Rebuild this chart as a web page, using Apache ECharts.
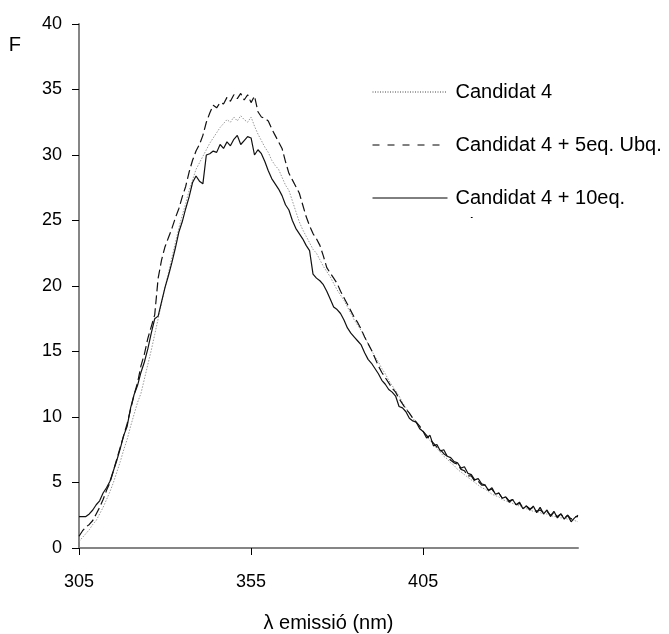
<!DOCTYPE html>
<html>
<head>
<meta charset="utf-8">
<script src="https://cdn.jsdelivr.net/npm/echarts@6/dist/echarts.min.js"></script>
<style>
  html, body { margin: 0; padding: 0; background: #fff; }
  #chart { width: 669px; height: 634px; }
</style>
</head>
<body>
<div id="chart"></div>
<script>
// Emission wavelength (nm)
const wavelengths = [
  305, 306, 307, 308, 309, 310, 311, 312, 313, 314,
  315, 316, 317, 318, 319, 320, 321, 322, 323, 324,
  325, 326, 327, 328, 329, 330, 331, 332, 333, 334,
  335, 336, 337, 338, 339, 340, 341, 342, 343, 344,
  345, 346, 347, 348, 349, 350, 351, 352, 353, 354,
  355, 356, 357, 358, 359, 360, 361, 362, 363, 364,
  365, 366, 367, 368, 369, 370, 371, 372, 373, 374,
  375, 376, 377, 378, 379, 380, 381, 382, 383, 384,
  385, 386, 387, 388, 389, 390, 391, 392, 393, 394,
  395, 396, 397, 398, 399, 400, 401, 402, 403, 404,
  405, 406, 407, 408, 409, 410, 411, 412, 413, 414,
  415, 416, 417, 418, 419, 420, 421, 422, 423, 424,
  425, 426, 427, 428, 429, 430, 431, 432, 433, 434,
  435, 436, 437, 438, 439, 440, 441, 442, 443, 444,
  445, 446, 447, 448, 449, 450
];

// Fluorescence F, Candidat 4 alone
const candidat4 = [
  0.5, 0.8, 1.1, 1.4, 1.8, 2.1, 2.6, 3.1, 3.7, 4.3,
  5.0, 5.8, 6.6, 7.5, 8.3, 9.3, 10.2, 11.1, 11.8, 12.9,
  14.0, 15.1, 16.3, 17.5, 18.7, 19.9, 21.0, 22.2, 23.3, 24.4,
  25.4, 26.3, 27.3, 28.1, 28.9, 29.4, 29.9, 30.4, 30.9, 31.3,
  31.7, 32.1, 32.4, 32.7, 32.5, 32.9, 32.6, 33.0, 32.7, 32.5,
  32.9, 32.2, 31.6, 31.1, 30.6, 30.2, 29.6, 29.2, 28.9, 28.3,
  27.7, 27.3, 26.5, 25.7, 24.9, 24.3, 23.8, 23.3, 22.8, 22.5,
  22.0, 21.5, 21.1, 20.7, 20.2, 19.7, 19.3, 18.9, 18.4, 17.9,
  17.4, 17.0, 16.6, 16.1, 15.6, 15.1, 14.6, 14.2, 13.7, 13.3,
  12.8, 12.4, 12.0, 11.6, 11.1, 10.7, 10.3, 9.9, 9.6, 9.2,
  8.9, 8.5, 8.2, 7.9, 7.6, 7.3, 7.0, 6.8, 6.5, 6.3,
  6.0, 5.8, 5.6, 5.4, 5.2, 5.0, 4.8, 4.6, 4.5, 4.3,
  4.1, 4.0, 3.9, 3.7, 3.6, 3.5, 3.4, 3.3, 3.2, 3.1,
  3.0, 2.9, 2.8, 2.8, 2.7, 2.6, 2.6, 2.5, 2.4, 2.4,
  2.3, 2.3, 2.2, 2.2, 2.1, 2.0
];

// Fluorescence F, Candidat 4 + 5 eq. ubiquitin
const candidat4Ubq5 = [
  0.9, 1.3, 1.6, 1.8, 2.1, 2.6, 3.1, 3.7, 4.4, 5.0,
  5.9, 6.8, 7.7, 8.6, 9.5, 10.6, 11.7, 12.6, 13.9, 14.8,
  16.0, 16.9, 17.8, 20.6, 22.0, 23.0, 23.7, 24.4, 25.2, 25.9,
  26.8, 27.6, 28.7, 29.6, 30.3, 30.8, 31.5, 32.5, 33.2, 33.8,
  33.6, 34.0, 33.9, 34.4, 34.1, 34.6, 34.3, 34.7, 34.2, 34.6,
  34.0, 34.5, 33.3, 32.9, 32.8, 32.6, 32.0, 31.5, 31.0, 30.5,
  29.5, 28.6, 28.1, 27.6, 27.1, 26.2, 25.3, 24.6, 24.0, 23.6,
  23.1, 22.3, 21.4, 21.0, 20.6, 20.2, 19.6, 19.1, 18.6, 18.1,
  17.6, 17.2, 16.7, 16.1, 15.6, 15.1, 14.5, 13.9, 13.4, 13.0,
  12.6, 12.2, 11.9, 11.4, 11.0, 10.6, 10.3, 9.9, 9.6, 9.3,
  8.9, 8.6, 8.3, 8.0, 7.7, 7.5, 7.2, 7.0, 6.7, 6.5,
  6.4, 6.0, 5.9, 5.5, 5.5, 5.1, 5.1, 4.8, 4.8, 4.4,
  4.5, 4.1, 4.2, 3.8, 3.9, 3.6, 3.7, 3.3, 3.4, 3.1,
  3.2, 3.0, 3.1, 2.8, 2.9, 2.7, 2.8, 2.5, 2.7, 2.4,
  2.6, 2.3, 2.5, 2.2, 2.4, 2.4
];

// Fluorescence F, Candidat 4 + 10 eq. ubiquitin
const candidat4Ubq10 = [
  2.4, 2.4, 2.4, 2.6, 2.9, 3.3, 3.6, 4.2, 4.6, 5.1,
  5.9, 6.7, 7.6, 8.6, 9.3, 10.7, 11.7, 12.4, 13.4, 14.2,
  15.2, 16.4, 17.5, 17.7, 18.8, 19.9, 20.8, 21.8, 22.9, 24.1,
  24.9, 25.9, 26.8, 27.9, 28.4, 28.0, 27.8, 30.0, 30.1, 30.3,
  30.2, 30.8, 30.5, 31.0, 30.7, 31.2, 31.5, 30.8, 31.1, 31.4,
  31.3, 30.0, 30.4, 30.1, 29.5, 28.8, 28.2, 27.8, 27.4, 26.9,
  26.2, 25.8, 25.0, 24.4, 24.0, 23.6, 23.1, 22.7, 20.9, 20.6,
  20.4, 20.1, 19.6, 19.0, 18.4, 18.2, 17.9, 17.4, 16.8, 16.4,
  16.1, 15.8, 15.5, 14.9, 14.4, 14.1, 13.7, 13.3, 12.8, 12.5,
  12.1, 11.9, 11.6, 10.8, 10.7, 10.4, 9.9, 9.7, 9.6, 9.1,
  8.9, 8.4, 8.6, 7.8, 7.9, 7.4, 7.5, 7.0, 6.9, 6.6,
  6.5, 6.1, 6.2, 5.7, 5.6, 5.2, 5.3, 4.9, 4.8, 4.4,
  4.6, 4.1, 4.2, 3.8, 3.9, 3.5, 3.7, 3.3, 3.5, 3.0,
  3.2, 2.9, 3.2, 2.7, 3.1, 2.6, 2.9, 2.4, 2.8, 2.3,
  2.6, 2.2, 2.5, 2.0, 2.3, 2.5
];

const xTicks = [305, 355, 405];
const seriesNames = ['Candidat 4', 'Candidat 4 + 5eq. Ubq.', 'Candidat 4 + 10eq.'];

const pairs = (values) => wavelengths.map((w, i) => [w, values[i]]);

const font = 'Liberation Sans, Arial, sans-serif';
const axisGray = '#858585';

const chart = echarts.init(document.getElementById('chart'), null, { renderer: 'canvas' });

chart.setOption({
  animation: false,
  backgroundColor: '#fff',
  grid: { left: 79, right: 91, top: 24, bottom: 86, containLabel: false, outerBoundsMode: 'none' },
  xAxis: {
    type: 'value',
    min: 305,
    max: 450,
    name: 'λ emissió (nm)',
    nameLocation: 'middle',
    nameGap: 65,
    nameTextStyle: { fontFamily: font, fontSize: 20, color: '#000' },
    axisLine: { lineStyle: { color: axisGray, width: 2 } },
    axisTick: { show: true, customValues: xTicks, length: 7, inside: false, lineStyle: { color: '#000', width: 1 } },
    axisLabel: { customValues: xTicks, margin: 25, fontFamily: font, fontSize: 18, color: '#000' },
    splitLine: { show: false }
  },
  yAxis: {
    type: 'value',
    min: 0,
    max: 40,
    interval: 5,
    name: 'F',
    nameLocation: 'end',
    nameGap: -31,
    nameTextStyle: { fontFamily: font, fontSize: 20, color: '#000', align: 'right', padding: [0, 58, 0, 0] },
    axisLine: { show: true, lineStyle: { color: axisGray, width: 2 } },
    axisTick: { show: true, length: 7, lineStyle: { color: '#000', width: 1 } },
    axisLabel: { margin: 17, fontFamily: font, fontSize: 18, color: '#000' },
    splitLine: { show: false }
  },
  legend: {
    orient: 'vertical',
    left: 372,
    top: 81,
    padding: 0,
    itemWidth: 75,
    itemHeight: 14,
    itemGap: 31,
    itemStyle: { opacity: 0, color: 'rgba(0,0,0,0)', borderWidth: 0 },
    textStyle: { fontFamily: font, fontSize: 20, color: '#000', lineHeight: 22, padding: [0, 0, 0, 3] },
    data: [
      { name: seriesNames[0], lineStyle: { color: '#444', width: 1, type: [1, 1.5] } },
      { name: seriesNames[1], lineStyle: { color: '#000', width: 1, type: [7, 8] } },
      { name: seriesNames[2], lineStyle: { color: '#000', width: 1 } }
    ]
  },
  graphic: [
    {
      type: 'text',
      left: 455,
      top: 216,
      z: 10,
      style: { text: 'Ubq.', font: '20px ' + font, fill: '#000' }
    },
    {
      type: 'rect',
      left: 450,
      top: 218,
      z: 11,
      shape: { width: 80, height: 25 },
      style: { fill: '#fff' }
    }
  ],
  series: [
    {
      name: seriesNames[0],
      type: 'line',
      data: pairs(candidat4),
      symbol: 'none',
      itemStyle: { color: '#9a9a9a' },
      lineStyle: { color: '#9a9a9a', width: 1, type: [1.5, 1.5] }
    },
    {
      name: seriesNames[1],
      type: 'line',
      data: pairs(candidat4Ubq5),
      symbol: 'none',
      itemStyle: { color: '#111' },
      lineStyle: { color: '#111', width: 1.2, type: [9, 4] }
    },
    {
      name: seriesNames[2],
      type: 'line',
      data: pairs(candidat4Ubq10),
      symbol: 'none',
      itemStyle: { color: '#111' },
      lineStyle: { color: '#111', width: 1.2 }
    }
  ]
});
</script>
</body>
</html>
